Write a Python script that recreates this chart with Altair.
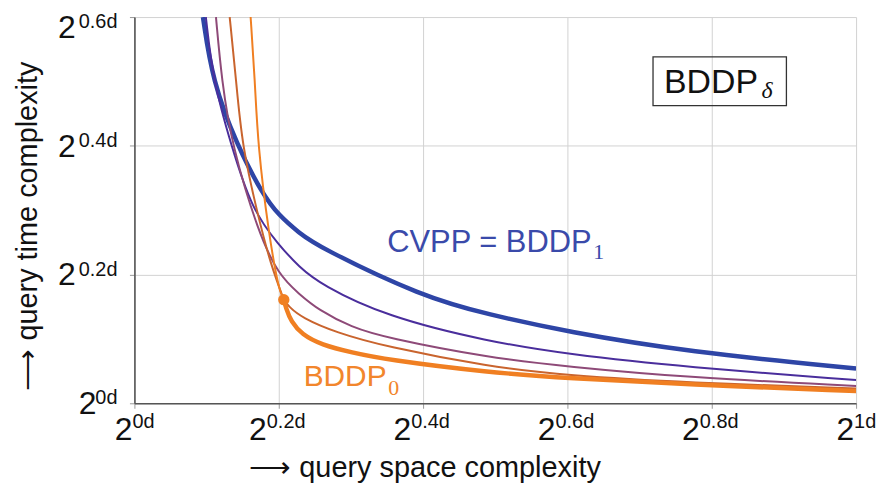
import altair as alt
import pandas as pd

# ---- curve readings (x: log2(space)/d, y: log2(time)/d) ----
cvpp_x = [0.095, 0.108, 0.142, 0.177, 0.200, 0.228, 0.255, 0.400, 0.490, 0.600, 0.766, 1.000]
cvpp_y = [0.600, 0.501, 0.401, 0.326, 0.292, 0.265, 0.243, 0.165, 0.138, 0.111, 0.080, 0.054]

d34_x = [0.099, 0.109, 0.134, 0.163, 0.200, 0.228, 0.259, 0.348, 0.490, 0.600, 0.766, 1.000]
d34_y = [0.600, 0.501, 0.401, 0.300, 0.246, 0.212, 0.184, 0.135, 0.096, 0.076, 0.056, 0.036]

d12_x = [0.113, 0.121, 0.135, 0.172, 0.200, 0.228, 0.255, 0.301, 0.348, 0.490, 0.600, 0.766, 1.000]
d12_y = [0.600, 0.501, 0.401, 0.264, 0.199, 0.170, 0.145, 0.118, 0.102, 0.071, 0.057, 0.040, 0.027]

d14_up_x = [0.132, 0.141, 0.149, 0.171, 0.189, 0.207]
d14_up_y = [0.600, 0.501, 0.401, 0.292, 0.215, 0.161]
d14_lo_x = [0.207, 0.214, 0.232, 0.279, 0.348, 0.490, 0.600, 0.766, 1.000]
d14_lo_y = [0.161, 0.150, 0.133, 0.110, 0.088, 0.057, 0.043, 0.032, 0.023]

d0_up_x = [0.161, 0.167, 0.171, 0.186, 0.200, 0.207]
d0_up_y = [0.600, 0.501, 0.401, 0.264, 0.176, 0.161]
d0_lo_x = [0.207, 0.210, 0.217, 0.232, 0.259, 0.301, 0.348, 0.490, 0.600, 0.766, 1.000]
d0_lo_y = [0.161, 0.148, 0.127, 0.107, 0.091, 0.079, 0.068, 0.048, 0.039, 0.029, 0.019]

dot_x = [0.207]
dot_y = [0.161]

x_tick_vals = [0.0, 0.2, 0.4, 0.6, 0.8, 1.0]
x_tick_exps = ["0d", "0.2d", "0.4d", "0.6d", "0.8d", "1d"]
y_tick_vals = [0.0, 0.2, 0.4, 0.6]
y_tick_exps = ["0d", "0.2d", "0.4d", "0.6d"]

FONT = "Liberation Sans"
SERIF = "Liberation Serif"
BLUE = "#2e45a6"
INDIGO = "#4a2e9c"
MAUVE = "#8e4a78"
BROWN = "#c9642e"
ORANGE = "#f07f22"
BLUE_TXT = "#3a4aaa"
ORANGE_TXT = "#f2862c"

W, H = 725, 388
xs = alt.Scale(domain=[0, 1], nice=False, zero=False)
ys = alt.Scale(domain=[0, 0.6], nice=False, zero=False)

series = [
    (cvpp_x, cvpp_y, BLUE, 4.5),
    (d34_x, d34_y, INDIGO, 2.0),
    (d12_x, d12_y, MAUVE, 2.0),
    (d14_up_x, d14_up_y, BROWN, 2.0),
    (d14_lo_x, d14_lo_y, BROWN, 2.0),
    (d0_up_x, d0_up_y, ORANGE, 2.0),
    (d0_lo_x, d0_lo_y, ORANGE, 4.5),
]

xaxis = alt.Axis(values=x_tick_vals, labels=False, title=None, grid=True,
                 gridColor="#d2d2d2", gridWidth=1, domainColor="#555555",
                 domainWidth=1.6, tickColor="#999999", tickSize=5)
yaxis = alt.Axis(values=y_tick_vals, labels=False, title=None, grid=True,
                 gridColor="#d2d2d2", gridWidth=1, domainColor="#555555",
                 domainWidth=1.6, tickColor="#999999", tickSize=5)

layers = []
first = True
for sx, sy, col, sw in series:
    df = pd.DataFrame({"x": sx, "y": sy})
    ch = alt.Chart(df).mark_line(color=col, strokeWidth=sw, interpolate="basis", clip=True)
    if first:
        ch = ch.encode(x=alt.X("x:Q", scale=xs, axis=xaxis), y=alt.Y("y:Q", scale=ys, axis=yaxis))
        first = False
    else:
        ch = ch.encode(x=alt.X("x:Q", scale=xs), y=alt.Y("y:Q", scale=ys))
    layers.append(ch)

dot = alt.Chart(pd.DataFrame({"x": dot_x, "y": dot_y})).mark_circle(
    size=130, color=ORANGE, opacity=1).encode(x=alt.X("x:Q", scale=xs), y=alt.Y("y:Q", scale=ys))
layers.append(dot)

# x tick labels: "2" with superscript exponent
xt = pd.DataFrame({"v": x_tick_vals, "e": x_tick_exps})
xt_base = alt.Chart(xt).transform_calculate(
    a="datum.v + (8 - length(datum.e) * 5) / 725").mark_text(
    align="right", baseline="alphabetic", fontSize=32, font=FONT, color="#111111").encode(
    x=alt.X("a:Q", scale=xs), y=alt.value(425), text=alt.value("2"))
xt_exp = alt.Chart(xt).transform_calculate(
    a="datum.v + (8 - length(datum.e) * 5) / 725").mark_text(
    align="left", baseline="alphabetic", fontSize=20, font=FONT, color="#111111").encode(
    x=alt.X("a:Q", scale=xs), y=alt.value(413), text="e:N")
layers += [xt_base, xt_exp]

# y tick labels (kept inside the page at the top)
yt = pd.DataFrame({"v": y_tick_vals, "e": y_tick_exps})
yt_exp = alt.Chart(yt).transform_calculate(
    py="max(388 * (1 - datum.v / 0.6) + 1, 11)").mark_text(
    align="right", baseline="alphabetic", fontSize=20, font=FONT, color="#111111").encode(
    x=alt.value(-17), y=alt.Y("py:Q", scale=None), text="e:N")
yt_base = alt.Chart(yt).transform_calculate(
    px="-17 - length(datum.e) * 10.5",
    py="max(388 * (1 - datum.v / 0.6) + 11, 21)").mark_text(
    align="right", baseline="alphabetic", fontSize=32, font=FONT, color="#111111").encode(
    x=alt.X("px:Q", scale=None), y=alt.Y("py:Q", scale=None), text=alt.value("2"))
layers += [yt_exp, yt_base]

one = pd.DataFrame({"k": [0]})

# axis titles
xtitle = alt.Chart(one).mark_text(align="center", baseline="alphabetic", fontSize=29,
                                  font=FONT, color="#111111").encode(
    x=alt.value(292), y=alt.value(462), text=alt.value("⟶ query space complexity"))
ytitle = alt.Chart(one).mark_text(align="center", baseline="middle", fontSize=29, angle=270,
                                  font=FONT, color="#111111").encode(
    x=alt.value(-107), y=alt.value(210), text=alt.value("⟶ query time complexity"))
layers += [xtitle, ytitle]

# legend box BDDP_delta
box = alt.Chart(one).mark_rect(filled=False, stroke="#333333", strokeWidth=1.3).encode(
    x=alt.value(521), x2=alt.value(655), y=alt.value(40), y2=alt.value(89))
box_t = alt.Chart(one).mark_text(align="left", baseline="alphabetic", fontSize=34,
                                 font=FONT, color="#111111").encode(
    x=alt.value(532), y=alt.value(76), text=alt.value("BDDP"))
box_d = alt.Chart(one).mark_text(align="left", baseline="alphabetic", fontSize=24,
                                 font=SERIF, fontStyle="italic", color="#111111").encode(
    x=alt.value(630), y=alt.value(81), text=alt.value("δ"))
layers += [box, box_t, box_d]

# curve labels
cv_t = alt.Chart(one).mark_text(align="left", baseline="alphabetic", fontSize=31,
                                font=FONT, color=BLUE_TXT).encode(
    x=alt.value(254), y=alt.value(236), text=alt.value("CVPP = BDDP"))
cv_s = alt.Chart(one).mark_text(align="left", baseline="alphabetic", fontSize=22,
                                font=SERIF, color=BLUE_TXT).encode(
    x=alt.value(461), y=alt.value(243), text=alt.value("1"))
b0_t = alt.Chart(one).mark_text(align="left", baseline="alphabetic", fontSize=30,
                                font=FONT, color=ORANGE_TXT).encode(
    x=alt.value(170), y=alt.value(371), text=alt.value("BDDP"))
b0_s = alt.Chart(one).mark_text(align="left", baseline="alphabetic", fontSize=22,
                                font=SERIF, color=ORANGE_TXT).encode(
    x=alt.value(255), y=alt.value(380), text=alt.value("0"))
layers += [cv_t, cv_s, b0_t, b0_s]

chart = alt.layer(*layers).properties(
    width=W, height=H,
    autosize=alt.AutoSizeParams(type="none"),
    padding={"left": 127, "top": 8, "right": 20, "bottom": 80},
).configure_view(stroke=None)

chart.save("out.html", embed_options={"renderer": "svg", "actions": False})
